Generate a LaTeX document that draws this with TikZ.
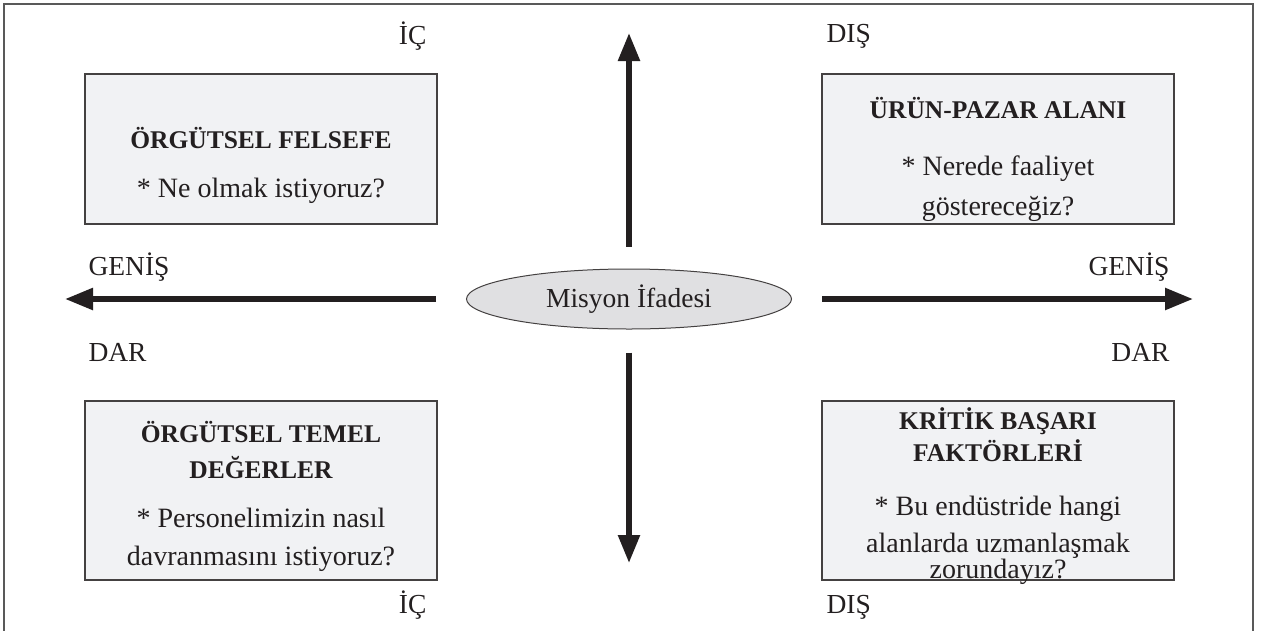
\documentclass[tikz,border=0pt]{standalone}
\usepackage{fontspec}
\setmainfont{Liberation Serif}
\usetikzlibrary{arrows.meta,shapes.geometric}
\definecolor{boxgray}{HTML}{F1F2F4}
\definecolor{ovalgray}{HTML}{E0E0E2}
\definecolor{inkblack}{HTML}{231F20}
\newcommand{\quadtitle}{\bfseries\fontsize{25.5}{37}\selectfont}

\begin{document}
\begin{tikzpicture}[x=1pt, y=-1pt,
    quad/.style={rectangle, draw=inkblack!85, line width=1.2pt, fill=boxgray, minimum width=352pt, inner sep=0pt},
    quadtext/.style={anchor=base, align=center, font=\fontsize{28}{37}\selectfont, text=inkblack},
    side/.style={font=\fontsize{27.5}{32}\selectfont, text=inkblack},
    axis/.style={-{Triangle[length=28pt, width=21pt]}, line width=5.5pt, draw=inkblack}]
    \useasboundingbox (0,0) rectangle (1262,630);

    % Frame
    \draw[line width=1.5pt, draw=black!65] (4,640) -- (4,4) -- (1253,4) -- (1253,640);

    % Quadrant boxes
    \node[quad, minimum height=150pt] (felsefe) at (261,149) {};
    \node[quad, minimum height=150pt] (pazar) at (998,149) {};
    \node[quad, minimum height=179pt] (degerler) at (261,490.5) {};
    \node[quad, minimum height=179pt] (faktorler) at (998,490.5) {};

    % Box texts (base = last line)
    \node[quadtext] (felsefeText) at (261,197)
        {{\quadtitle ÖRGÜTSEL FELSEFE}\\[12pt] * Ne olmak istiyoruz?};
    \node[quadtext] (pazarText) at (998,215)
        {{\quadtitle ÜRÜN-PAZAR ALANI}\\[20pt] * Nerede faaliyet\\[3pt] göstereceğiz?};
    \node[quadtext] (degerlerText) at (261,565)
        {{\quadtitle ÖRGÜTSEL TEMEL}\\[-1pt] {\quadtitle DEĞERLER}\\[12pt] * Personelimizin nasıl\\[1pt] davranmasını istiyoruz?};
    \node[quadtext] (faktorlerText) at (998,578)
        {{\quadtitle KRİTİK BAŞARI}\\[-5pt] {\quadtitle FAKTÖRLERİ}\\[17pt] * Bu endüstride hangi\\ alanlarda uzmanlaşmak\\[-11pt] zorundayız?};

    % Central concept
    \node[ellipse, draw=inkblack!85, line width=1pt, fill=ovalgray, minimum width=325pt, minimum height=60pt, inner sep=0pt, side] (misyon) at (629,299) {Misyon İfadesi};

    % Axis ends
    \coordinate (upTip) at (629,33);
    \coordinate (downTip) at (629,563);
    \coordinate (leftTip) at (65,299);
    \coordinate (rightTip) at (1193,299);

    % Axes
    \draw[axis, shorten <=22pt] (misyon) -- (upTip);
    \draw[axis, shorten <=23pt] (misyon) -- (downTip);
    \draw[axis, shorten <=30pt] (misyon) -- (leftTip);
    \draw[axis, shorten <=30pt] (misyon) -- (rightTip);

    % Axis labels
    \node[side, anchor=base east] (icTop) at (430,44) {İÇ};
    \node[side, anchor=base west] (disTop) at (823,42) {DIŞ};
    \node[side, anchor=base west] (genisLeft) at (85,275) {GENİŞ};
    \node[side, anchor=base west] (darLeft) at (85,361) {DAR};
    \node[side, anchor=base east] (genisRight) at (1173,275) {GENİŞ};
    \node[side, anchor=base east] (darRight) at (1173,361) {DAR};
    \node[side, anchor=base east] (icBottom) at (430,613) {İÇ};
    \node[side, anchor=base west] (disBottom) at (823,613) {DIŞ};
\end{tikzpicture}
\end{document}
